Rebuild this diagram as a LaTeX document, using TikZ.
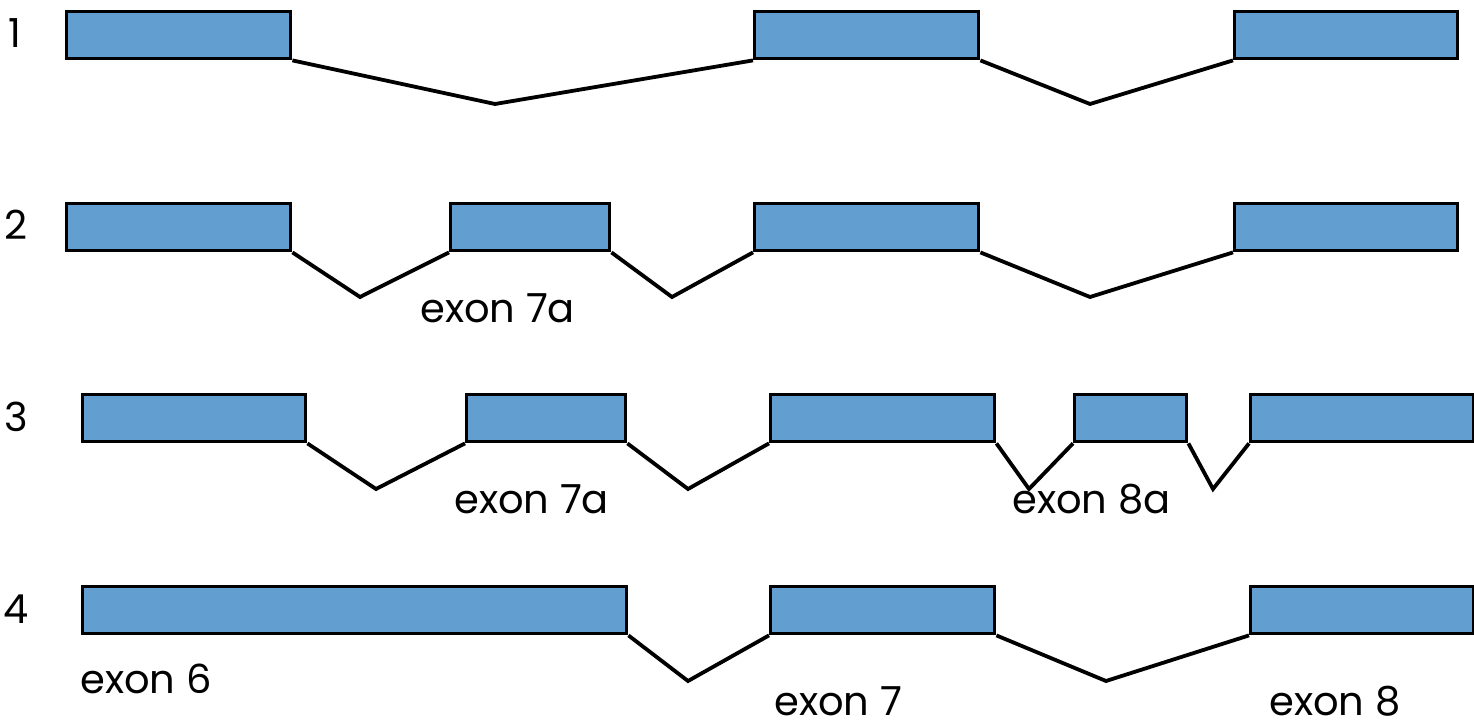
\documentclass[tikz,border=0pt]{standalone}
\usepackage{fontspec}
\setmainfont{Poppins}
\begin{document}
\begin{tikzpicture}[x=1pt,y=-1pt,
  exonbox/.style={draw=black, line width=3.4pt, fill=exonblue, inner sep=0pt,
    anchor=north west, minimum height=47pt},
  intron/.style={draw=black, line width=3.8pt, line join=miter},
  lbl/.style={font=\fontsize{40}{46}\selectfont, inner sep=0pt, text=black, anchor=base west},
  num/.style={font=\fontsize{40}{46}\selectfont, inner sep=0pt, text=black, anchor=base}]
\definecolor{exonblue}{RGB}{98,158,208}
\useasboundingbox (0,0) rectangle (1474,727);

% row 1
\node[num] (n1) at (15,48) {1};
\node[exonbox, minimum width=224pt] (a1) at (65,10) {};
\node[exonbox, minimum width=224pt] (b1) at (753,10) {};
\node[exonbox, minimum width=223pt] (c1) at (1233,10) {};
\coordinate (v11) at (495,104);
\coordinate (v12) at (1090,104);
\draw[intron] (a1.south east) -- (v11) -- (b1.south west);
\draw[intron] (b1.south east) -- (v12) -- (c1.south west);

% row 2
\node[num] (n2) at (16,240) {2};
\node[exonbox, minimum width=224pt] (a2) at (65,202) {};
\node[exonbox, minimum width=159pt] (b2) at (449,202) {};
\node[exonbox, minimum width=224pt] (c2) at (753,202) {};
\node[exonbox, minimum width=223pt] (d2) at (1233,202) {};
\coordinate (v21) at (360,297);
\coordinate (v22) at (672,297);
\coordinate (v23) at (1090,297);
\draw[intron] (a2.south east) -- (v21) -- (b2.south west);
\draw[intron] (b2.south east) -- (v22) -- (c2.south west);
\draw[intron] (c2.south east) -- (v23) -- (d2.south west);
\node[lbl] (t2) at (420,322) {exon 7a};

% row 3
\node[num] (n3) at (16,431) {3};
\node[exonbox, minimum width=223pt] (a3) at (81,393) {};
\node[exonbox, minimum width=159pt] (b3) at (465,393) {};
\node[exonbox, minimum width=224pt] (c3) at (769,393) {};
\node[exonbox, minimum width=112pt] (d3) at (1073,393) {};
\node[exonbox, minimum width=223pt] (e3) at (1249,393) {};
\coordinate (v31) at (376,489);
\coordinate (v32) at (688,489);
\coordinate (v33) at (1029,489);
\coordinate (v34) at (1213,489);
\draw[intron] (a3.south east) -- (v31) -- (b3.south west);
\draw[intron] (b3.south east) -- (v32) -- (c3.south west);
\draw[intron] (c3.south east) -- (v33) -- (d3.south west);
\draw[intron] (d3.south east) -- (v34) -- (e3.south west);
\node[lbl] (t3a) at (454,513) {exon 7a};
\node[lbl] (t3b) at (1012,513) {exon 8a};

% row 4
\node[num] (n4) at (16,623) {4};
\node[exonbox, minimum width=544pt] (a4) at (81,585) {};
\node[exonbox, minimum width=224pt] (b4) at (769,585) {};
\node[exonbox, minimum width=223pt] (c4) at (1249,585) {};
\coordinate (v41) at (688,681);
\coordinate (v42) at (1106,681);
\draw[intron] (a4.south east) -- (v41) -- (b4.south west);
\draw[intron] (b4.south east) -- (v42) -- (c4.south west);
\node[lbl] (t4a) at (80,693) {exon 6};
\node[lbl] (t4b) at (774,715) {exon 7};
\node[lbl] (t4c) at (1269,715) {exon 8};
\end{tikzpicture}
\end{document}
